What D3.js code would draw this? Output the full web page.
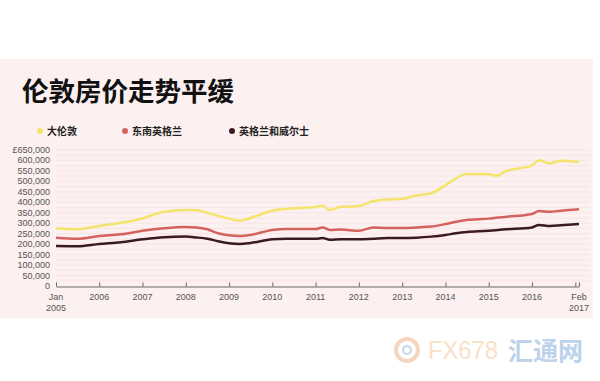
<!DOCTYPE html>
<html><head><meta charset="utf-8">
<script src="https://cdn.jsdelivr.net/npm/d3@7"></script>
<style>body{margin:0;background:#fff}svg{display:block}</style>
</head><body>
<script>
const title = "伦敦房价走势平缓";
const seriesNames = ["大伦敦", "东南英格兰", "英格兰和威尔士"];
const seriesColors = ["#f3e46c", "#d4625e", "#3b1a24"];
const dates = ["2005-01","2005-07","2006-01","2006-07","2007-01","2007-07","2008-01","2008-04","2008-07","2008-10",
  "2009-01","2009-04","2009-07","2010-01","2010-05","2011-01","2011-03","2011-05","2011-08","2012-01","2012-05","2012-09",
  "2013-01","2013-05","2013-09","2014-01","2014-04","2014-07","2015-01","2015-03","2015-06","2016-01","2016-03","2016-06","2016-09","2017-02"];
const london = [276,271,287,302,323,355,363,362,350,335,322,312,325,360,369,378,384,363,379,382,406,414,416,433,443,481,515,535,534,527,550,577,601,586,599,593];
const southEast = [231,226,239,247,264,276,282,280,271,252,242,239,244,268,272,272,280,268,270,264,280,277,277,280,284,296,307,315,322,326,331,344,358,355,360,367];
const englandWales = [191,190,201,209,223,233,236,232,226,214,204,201,206,223,226,226,229,221,223,223,226,229,229,231,236,244,252,258,264,267,271,280,292,287,290,296];
const yTicks = [0,50000,100000,150000,200000,250000,300000,350000,400000,450000,500000,550000,600000,650000];
const xTickYears = [2006,2007,2008,2009,2010,2011,2012,2013,2014,2015,2016];

const W = 600, H = 381;
const svg = d3.select("body").append("svg").attr("width", W).attr("height", H);
svg.append("rect").attr("x",0).attr("y",59).attr("width",593).attr("height",259).attr("fill","#fdf0f0");

const parse = d3.timeParse("%Y-%m");
const x = d3.scaleTime().domain([parse("2005-01"), parse("2017-02")]).range([56, 579]);
const y = d3.scaleLinear().domain([0, 650000]).range([286, 150]);

// gridlines
svg.append("g").selectAll("line").data(d3.range(25000, 650001, 25000)).join("line")
  .attr("x1", 56).attr("x2", 590).attr("y1", d=>y(d)).attr("y2", d=>y(d))
  .attr("stroke", "#f7e5e5").attr("stroke-width", 1);

// title
svg.append("text").attr("x", 22).attr("y", 101).text(title)
  .attr("font-family","'Noto Sans CJK SC'").attr("font-weight","bold").attr("font-size",26.5).attr("fill","#111");

// legend
const legX = [40, 125, 232];
seriesNames.forEach((n,i)=>{
  svg.append("circle").attr("cx", legX[i]).attr("cy", 131).attr("r", 3).attr("fill", seriesColors[i]);
  svg.append("text").attr("x", legX[i]+7).attr("y", 135).text(n)
    .attr("font-family","'Noto Sans CJK SC'").attr("font-weight","bold").attr("font-size",10).attr("fill","#222");
});

// y labels
svg.append("g").selectAll("text").data(yTicks).join("text")
  .attr("x", 50).attr("y", d=>y(d)+3).attr("text-anchor","end")
  .attr("font-family","'Liberation Sans', Arial").attr("font-size",9).attr("fill","#555")
  .text(d => (d===650000 ? "£" : "") + (d===0 ? "0" : d3.format(",")(d)));

// x axis
const tickDates = [parse("2005-01")].concat(xTickYears.map(yr=>parse(yr+"-01")), [parse("2017-01"), parse("2017-02")]);
const xAxis = d3.axisTop(x).tickValues(tickDates).tickSize(4).tickSizeOuter(0).tickFormat("");
const gx = svg.append("g").attr("transform","translate(0,286.5)").call(xAxis);
gx.select(".domain").attr("stroke","#666");
gx.selectAll(".tick line").attr("stroke","#666");
const lab = svg.append("g").attr("font-family","'Liberation Sans', Arial").attr("font-size",9).attr("fill","#555").attr("text-anchor","middle");
xTickYears.forEach(yr=>{ lab.append("text").attr("x", x(parse(yr+"-01"))).attr("y", 300).text(yr); });
lab.append("text").attr("x", x(parse("2005-01"))).attr("y", 300).text("Jan");
lab.append("text").attr("x", x(parse("2005-01"))).attr("y", 311).text("2005");
lab.append("text").attr("x", x(parse("2017-02"))).attr("y", 300).text("Feb");
lab.append("text").attr("x", x(parse("2017-02"))).attr("y", 311).text("2017");

// lines
const allSeries = [london, southEast, englandWales];
const line = d3.line().x((d,i)=>x(parse(dates[i]))).y(d=>y(d*1000)).curve(d3.curveMonotoneX);
[2,1,0].forEach(i=>{
  svg.append("path").datum(allSeries[i]).attr("d", line).attr("fill","none")
    .attr("stroke", seriesColors[i]).attr("stroke-width", 2.5).attr("stroke-linejoin","round");
});

// watermark
const wm = svg.append("g").attr("opacity", 0.55);
wm.append("circle").attr("cx", 407).attr("cy", 350).attr("r", 11).attr("fill","none").attr("stroke","#f0b48a").attr("stroke-width",4);
wm.append("circle").attr("cx", 407).attr("cy", 350).attr("r", 4).attr("fill","none").attr("stroke","#9bb8d8").attr("stroke-width",2);
wm.append("text").attr("x", 428).attr("y", 359).text("FX678")
  .attr("font-family","'Liberation Sans', Arial").attr("font-size",26)
  .attr("textLength", 70).attr("lengthAdjust","spacingAndGlyphs").attr("fill","#f5c89a");
wm.append("text").attr("x", 508).attr("y", 360).text("汇通网")
  .attr("font-family","'Noto Sans CJK SC'").attr("font-weight","bold").attr("font-size",25).attr("fill","#88aedb");
</script>
</body></html>
